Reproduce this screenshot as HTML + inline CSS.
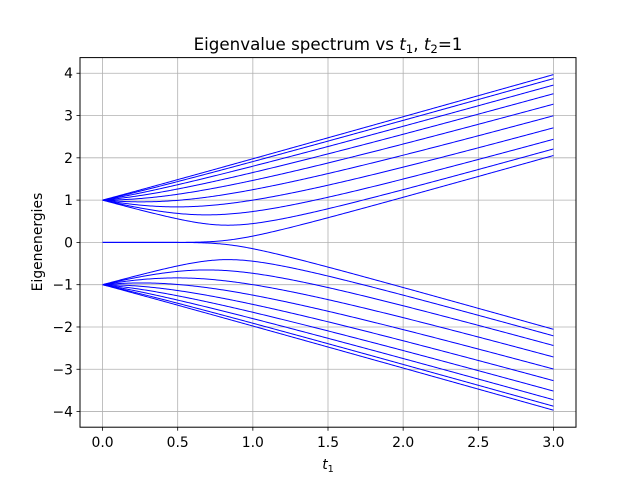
<!DOCTYPE html>
<html><head><meta charset="utf-8"><style>
body{margin:0;background:#fff;}
svg text{font-family:"DejaVu Sans","Liberation Sans",sans-serif;fill:#000;}
</style></head><body>
<svg id="chart" width="640" height="480" viewBox="0 0 640 480" xmlns="http://www.w3.org/2000/svg">
<rect width="640" height="480" fill="#fff"/>
<text x="328" y="50" font-size="16.7" text-anchor="middle">Eigenvalue spectrum vs <tspan font-style="italic">t</tspan><tspan font-size="11.7" dy="3">1</tspan><tspan dy="-3">, </tspan><tspan font-style="italic">t</tspan><tspan font-size="11.7" dy="3">2</tspan><tspan dy="-3">=1</tspan></text>
<g id="grid"></g><g id="lines"></g><g id="ticks"></g>
<rect x="80" y="57.6" width="496" height="369.6" fill="none" stroke="#000" stroke-width="1"/>
<text x="328" y="469" font-size="13.9" text-anchor="middle"><tspan font-style="italic">t</tspan><tspan font-size="9.7" dy="3">1</tspan></text>
<text x="0" y="0" font-size="13.9" text-anchor="middle" transform="translate(42,242) rotate(-90)">Eigenenergies</text>
</svg>
<script>
const t1Range = [0, 3];
const t2Value = [1];
const nCells = [10];
const nSamples = [301];
const xTicks = [0, 0.5, 1.0, 1.5, 2.0, 2.5, 3.0];
const xTickLabels = ["0.0","0.5","1.0","1.5","2.0","2.5","3.0"];
const yTicks = [-4,-3,-2,-1,0,1,2,3,4];
const yTickLabels = ["−4","−3","−2","−1","0","1","2","3","4"];

const L=80,R=576,T=57.6,B=427.2;
const xmin=-0.15,xmax=3.15,ymin=-4.37,ymax=4.37;
const X=v=>L+(v-xmin)/(xmax-xmin)*(R-L);
const Y=v=>B-(v-ymin)/(ymax-ymin)*(B-T);
const NS="http://www.w3.org/2000/svg";
function mk(tag,attrs,parent){const e=document.createElementNS(NS,tag);for(const k in attrs)e.setAttribute(k,attrs[k]);parent.appendChild(e);return e;}
const grid=document.getElementById('grid'),ticks=document.getElementById('ticks'),lines=document.getElementById('lines');
xTicks.forEach((v,i)=>{
  const g=mk('line',{x1:X(v),x2:X(v),y1:T,y2:B,stroke:'#b0b0b0','stroke-width':0.8},grid);
  
  
  const tk=mk('line',{x1:X(v),x2:X(v),y1:B,y2:B+3.5,stroke:'#000','stroke-width':0.8},ticks);
  
  
  const t=mk('text',{x:X(v),y:B+20,'font-size':13.9,'text-anchor':'middle'},ticks);
  t.textContent=xTickLabels[i];
  
  
});
yTicks.forEach((v,i)=>{
  const g=mk('line',{x1:L,x2:R,y1:Y(v),y2:Y(v),stroke:'#b0b0b0','stroke-width':0.8},grid);
  
  
  const tk=mk('line',{x1:L-3.5,x2:L,y1:Y(v),y2:Y(v),stroke:'#000','stroke-width':0.8},ticks);
  
  
  const t=mk('text',{x:L-7,y:Y(v)+5,'font-size':13.9,'text-anchor':'end'},ticks);
  t.textContent=yTickLabels[i];
  
  
});
function eigs(t1,t2,n){
  const M=2*n,off=[];for(let i=0;i<M-1;i++)off.push(i%2===0?t1:t2);
  const cnt=x=>{let c=0,d=-x;if(d<0)c++;for(let i=1;i<M;i++){if(Math.abs(d)<1e-300)d=1e-300;d=-x-off[i-1]*off[i-1]/d;if(d<0)c++;}return c;};
  const res=[];const bound=Math.abs(t1)+Math.abs(t2)+1;
  for(let k=0;k<M;k++){let lo=-bound,hi=bound;for(let it=0;it<60;it++){const m=(lo+hi)/2;if(cnt(m)>k)hi=m;else lo=m;}res.push((lo+hi)/2);}
  return res;
}
const ns=nSamples[0],n=nCells[0],t2=t2Value[0];
const paths=Array.from({length:2*n},()=>[]);
for(let s=0;s<ns;s++){
  const t=t1Range[0]+(t1Range[1]-t1Range[0])*s/(ns-1);
  const e=eigs(t,t2,n);
  e.forEach((v,k)=>paths[k].push((s?'L':'M')+X(t).toFixed(2)+','+Y(v).toFixed(2)));
}
paths.forEach((p,k)=>{
  const el=mk('path',{d:p.join(''),fill:'none',stroke:'#0000ff','stroke-width':1},lines);
  
  
});
</script>
</body></html>
